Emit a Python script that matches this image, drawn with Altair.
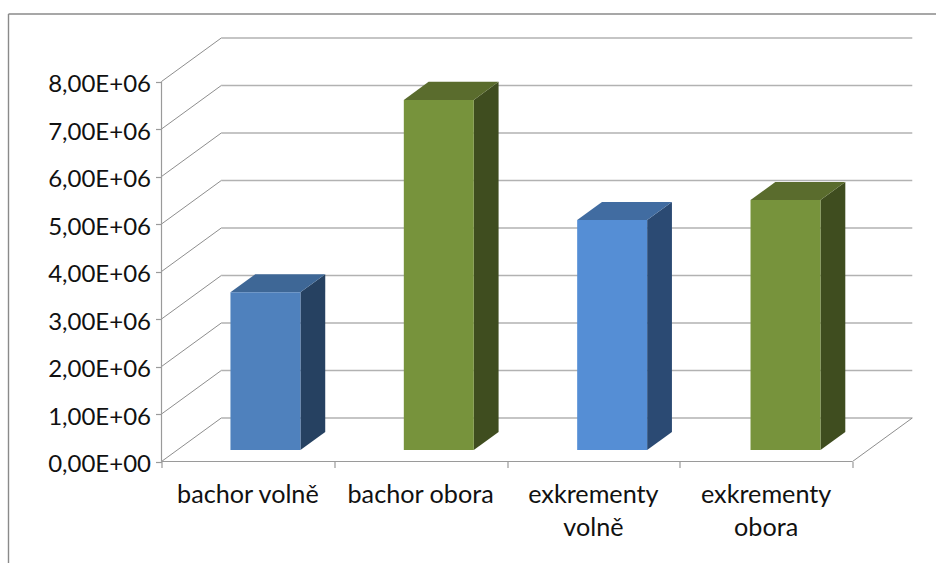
import altair as alt
import pandas as pd

# Chart values
categories = ["bachor volně", "bachor obora", "exkrementy\nvolně", "exkrementy\nobora"]
values = [3.32e6, 7.37e6, 4.84e6, 5.26e6]
y_ticks = [0, 1e6, 2e6, 3e6, 4e6, 5e6, 6e6, 7e6, 8e6]
y_labels = ["0,00E+00", "1,00E+06", "2,00E+06", "3,00E+06", "4,00E+06",
            "5,00E+06", "6,00E+06", "7,00E+06", "8,00E+06"]

# Face colours of each column: front, side, top
front_colors = ["#4f81bd", "#77933c", "#558ed5", "#77933c"]
side_colors = ["#264161", "#3f4d1f", "#2b4a73", "#3f4d1f"]
top_colors = ["#3e6796", "#5a6c2d", "#416ca1", "#5a6c2d"]

# Oblique projection: one unit of depth shifts a point right and up
DEPTH_X = 0.346
DEPTH_Y = 0.9158e6
BAR_STEP = 1.0035
BAR_WIDTH = 0.405
BAR_DEPTH_START = 0.265
BAR_DEPTH_END = 0.68

PX_PER_CAT = 172.75
PX_PER_UNIT = 47.5e-6
x_max = 4 + DEPTH_X
y_max = 8e6 + DEPTH_Y
plot_w = x_max * PX_PER_CAT
plot_h = y_max * PX_PER_UNIT

x_scale = alt.Scale(domain=[0, x_max], nice=False, zero=False)
y_scale = alt.Scale(domain=[0, y_max], nice=False, zero=False)

FONT = "Lato"
AXIS_COLOR = "#9a9a9a"
label_lookup = "[" + ",".join(f"'{s}'" for s in y_labels) + "][round(datum.value/1000000)]"

x_axis = alt.Axis(values=[0, 1, 2, 3, 4], labels=False, title=None, domain=False, grid=False,
                  tickSize=6, tickColor=AXIS_COLOR, tickWidth=1.2)
y_axis = alt.Axis(values=y_ticks, labelExpr=label_lookup, title=None, domain=False, grid=False,
                  tickSize=6, tickColor=AXIS_COLOR, tickWidth=1.2, labelFont=FONT,
                  labelFontSize=24, labelColor="#111111", labelPadding=5, labelOffset=3)


def X(field="x"):
    return alt.X(f"{field}:Q", scale=x_scale, axis=x_axis)


def Y(field="y"):
    return alt.Y(f"{field}:Q", scale=y_scale, axis=y_axis, stack=None)


# Faces of the columns, projected from category / value / depth
front_rows, side_rows, top_rows = [], [], []
for i, v in enumerate(values):
    x0 = i * BAR_STEP + 0.5 - BAR_WIDTH / 2 + 0.01 + BAR_DEPTH_START * DEPTH_X
    x1 = x0 + BAR_WIDTH
    base0 = BAR_DEPTH_START * DEPTH_Y
    base1 = BAR_DEPTH_END * DEPTH_Y
    dx = (BAR_DEPTH_END - BAR_DEPTH_START) * DEPTH_X
    front_rows.append(dict(x=x0, x2=x1, y=base0, y2=base0 + v, fill=front_colors[i]))
    side_rows += [
        dict(bar=i, x=x1, y=base0 + v, y2=base0, fill=side_colors[i]),
        dict(bar=i, x=x1 + dx, y=base1 + v, y2=base1, fill=side_colors[i]),
    ]
    top_rows += [
        dict(bar=i, y=base0 + v, x=x0, x2=x1, fill=top_colors[i]),
        dict(bar=i, y=base1 + v, x=x0 + dx, x2=x1 + dx, fill=top_colors[i]),
    ]

# Back wall gridlines and the slanted lines on the side wall and floor
back_rows, slant_rows = [], []
for k, t in enumerate(y_ticks):
    back_rows += [dict(g=k, x=DEPTH_X, y=t + DEPTH_Y), dict(g=k, x=x_max, y=t + DEPTH_Y)]
    slant_rows += [dict(g=k, x=0, y=t), dict(g=k, x=DEPTH_X, y=t + DEPTH_Y)]
slant_rows += [dict(g=99, x=4, y=0), dict(g=99, x=x_max, y=DEPTH_Y)]

axis_rows = [
    dict(g=0, x=0, y=0), dict(g=0, x=0, y=8e6),
    dict(g=1, x=0, y=0), dict(g=1, x=4, y=0),
]

label_rows = [dict(x=i + 0.5, y=0, label=c) for i, c in enumerate(categories)]

axes_layer = alt.Chart(pd.DataFrame(axis_rows)).mark_line(color=AXIS_COLOR, strokeWidth=1.2).encode(
    x=X(), y=Y(), detail="g:N"
)
back_layer = alt.Chart(pd.DataFrame(back_rows)).mark_line(color="#b2b2b2", strokeWidth=1.6).encode(
    x=X(), y=Y(), detail="g:N"
)
slant_layer = alt.Chart(pd.DataFrame(slant_rows)).mark_line(color="#8e8e8e", strokeWidth=1).encode(
    x=X(), y=Y(), detail="g:N"
)

side_layer = alt.Chart(pd.DataFrame(side_rows)).mark_area(orient="vertical").encode(
    x=X(), y=Y(), y2="y2:Q", color=alt.Color("fill:N", scale=None), detail="bar:N"
)
top_layer = alt.Chart(pd.DataFrame(top_rows)).mark_area(orient="horizontal").encode(
    y=Y(), x=X(), x2="x2:Q", color=alt.Color("fill:N", scale=None), detail="bar:N"
)
front_layer = alt.Chart(pd.DataFrame(front_rows)).mark_rect().encode(
    x=X(), x2="x2:Q", y=Y(), y2="y2:Q", color=alt.Color("fill:N", scale=None)
)

label_layer = alt.Chart(pd.DataFrame(label_rows)).mark_text(
    font=FONT, fontSize=25.2, color="#111111", baseline="top", align="center",
    dy=21, lineBreak="\n", lineHeight=33,
).encode(x=X(), y=Y(), text="label:N")

# Outer frame of the chart area, open towards the bottom
frame_top = alt.Chart(pd.DataFrame({"k": [0]})).mark_rule(color="#8a8a8a", strokeWidth=1.4).encode(
    x=alt.value(-153), x2=alt.value(plot_w + 24), y=alt.value(-24)
)
frame_left = alt.Chart(pd.DataFrame({"k": [0]})).mark_rule(color="#8a8a8a", strokeWidth=1.4).encode(
    x=alt.value(-153), y=alt.value(-24), y2=alt.value(plot_h + 102)
)

chart = alt.layer(
    back_layer, slant_layer, axes_layer, side_layer, top_layer, front_layer,
    label_layer, frame_top, frame_left,
).properties(
    width=plot_w,
    height=plot_h,
    background="white",
    autosize=alt.AutoSizeParams(type="none"),
    padding={"left": 161.5, "top": 38, "right": 936 - 161.5 - plot_w, "bottom": 563 - 38 - plot_h},
).configure_view(stroke=None)

chart.save("out.html", embed_options={"renderer": "svg", "actions": False})
